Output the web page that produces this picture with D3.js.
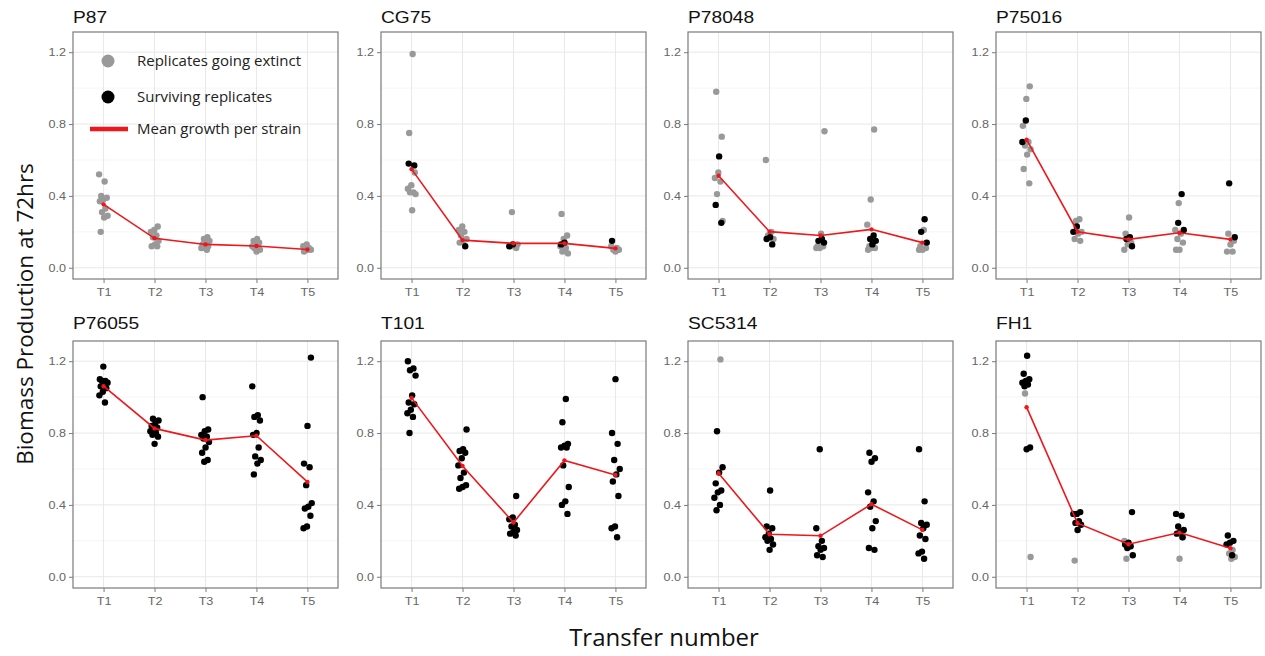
<!DOCTYPE html>
<meta charset="utf-8">
<style>
    body { margin: 0; background: #fff; }
    svg { display: block; }
</style>
<svg width="1265" height="656"></svg>
<script src="https://d3js.org/d3.v7.min.js"></script>
<script>
    var strains = ["P87", "CG75", "P78048", "P75016", "P76055", "T101", "SC5314", "FH1"];
    var transfers = ["T1", "T2", "T3", "T4", "T5"];
    var yTicks = [0, 0.4, 0.8, 1.2];
    var yMinorTicks = [0.2, 0.6, 1.0];

    // grey points: replicates going extinct, per strain, per transfer
    var extinct = [
        [[0.52, 0.48, 0.40, 0.39, 0.38, 0.37, 0.33, 0.31, 0.29, 0.28, 0.20], [0.23, 0.21, 0.20, 0.18, 0.17, 0.15, 0.13, 0.12, 0.12], [0.17, 0.16, 0.15, 0.14, 0.13, 0.12, 0.11, 0.11, 0.10], [0.16, 0.15, 0.14, 0.13, 0.12, 0.12, 0.11, 0.10, 0.09], [0.13, 0.12, 0.11, 0.11, 0.10, 0.10, 0.09]],
        [[1.19, 0.75, 0.53, 0.46, 0.44, 0.42, 0.42, 0.41, 0.32], [0.23, 0.21, 0.20, 0.18, 0.16, 0.15, 0.14], [0.31, 0.13, 0.12, 0.12, 0.11], [0.30, 0.18, 0.16, 0.12, 0.11, 0.09, 0.08], [0.12, 0.11, 0.10, 0.10, 0.09]],
        [[0.98, 0.73, 0.53, 0.50, 0.48, 0.41, 0.26], [0.60, 0.20, 0.18, 0.16], [0.76, 0.19, 0.12, 0.12, 0.11, 0.11], [0.77, 0.38, 0.24, 0.13, 0.12, 0.11, 0.11, 0.10], [0.21, 0.12, 0.11, 0.10, 0.10]],
        [[1.01, 0.94, 0.79, 0.70, 0.68, 0.66, 0.63, 0.55, 0.47], [0.27, 0.26, 0.20, 0.19, 0.16, 0.15], [0.28, 0.19, 0.14, 0.13, 0.10], [0.36, 0.21, 0.19, 0.16, 0.14, 0.10, 0.10], [0.19, 0.15, 0.13, 0.09, 0.09]],
        [[], [], [], [], []],
        [[], [], [], [], []],
        [[1.21], [], [], [], []],
        [[1.02, 0.11], [0.09], [0.20, 0.17, 0.10], [0.22, 0.10], [0.15, 0.13, 0.11, 0.10]]
    ];

    // black points: surviving replicates
    var surviving = [
        [[], [], [], [], []],
        [[0.58, 0.57], [0.12], [0.13, 0.12], [0.14, 0.13], [0.15]],
        [[0.62, 0.35, 0.25], [0.17, 0.16, 0.13], [0.16, 0.15, 0.14], [0.18, 0.16, 0.15, 0.13], [0.27, 0.20, 0.14]],
        [[0.82, 0.70], [0.23, 0.20], [0.17, 0.16, 0.12], [0.41, 0.25, 0.21], [0.47, 0.17]],
        [[1.17, 1.10, 1.09, 1.09, 1.08, 1.07, 1.06, 1.05, 1.03, 1.01, 0.97], [0.88, 0.87, 0.85, 0.84, 0.83, 0.82, 0.81, 0.80, 0.79, 0.78, 0.74], [1.00, 0.82, 0.81, 0.79, 0.78, 0.77, 0.75, 0.72, 0.69, 0.65, 0.64], [1.06, 0.90, 0.89, 0.87, 0.80, 0.79, 0.72, 0.67, 0.65, 0.63, 0.57], [1.22, 0.84, 0.63, 0.61, 0.51, 0.41, 0.39, 0.38, 0.34, 0.28, 0.27]],
        [[1.20, 1.16, 1.15, 1.12, 1.01, 0.97, 0.96, 0.93, 0.91, 0.89, 0.80], [0.82, 0.71, 0.70, 0.69, 0.66, 0.62, 0.58, 0.55, 0.51, 0.50, 0.49], [0.45, 0.33, 0.32, 0.29, 0.28, 0.26, 0.25, 0.24, 0.23], [0.99, 0.86, 0.74, 0.73, 0.72, 0.72, 0.62, 0.50, 0.42, 0.40, 0.35], [1.10, 0.80, 0.74, 0.65, 0.60, 0.57, 0.53, 0.45, 0.28, 0.27, 0.22]],
        [[0.81, 0.61, 0.58, 0.52, 0.48, 0.47, 0.44, 0.40, 0.37], [0.48, 0.28, 0.27, 0.24, 0.22, 0.21, 0.20, 0.18, 0.15], [0.71, 0.27, 0.20, 0.17, 0.16, 0.15, 0.12, 0.11], [0.69, 0.66, 0.64, 0.47, 0.42, 0.39, 0.31, 0.27, 0.16, 0.15], [0.71, 0.42, 0.30, 0.29, 0.27, 0.23, 0.21, 0.14, 0.13, 0.10]],
        [[1.23, 1.13, 1.10, 1.09, 1.08, 1.07, 1.06, 0.72, 0.71], [0.36, 0.35, 0.35, 0.31, 0.30, 0.29, 0.26], [0.36, 0.19, 0.18, 0.17, 0.16, 0.12], [0.35, 0.34, 0.28, 0.26, 0.25, 0.24, 0.22], [0.23, 0.20, 0.19, 0.18, 0.12]]
    ];

    // red line: mean growth per strain
    var meanGrowth = [
        [0.353, 0.164, 0.130, 0.121, 0.102],
        [0.549, 0.154, 0.136, 0.136, 0.108],
        [0.512, 0.201, 0.180, 0.214, 0.140],
        [0.713, 0.201, 0.158, 0.195, 0.158],
        [1.061, 0.826, 0.761, 0.785, 0.528],
        [0.996, 0.617, 0.302, 0.648, 0.567],
        [0.576, 0.237, 0.228, 0.404, 0.261],
        [0.944, 0.298, 0.181, 0.246, 0.159]
    ];

    var legendItems = ["Replicates going extinct", "Surviving replicates", "Mean growth per strain"];

    var svg = d3.select("svg"),
        PANEL_W = 265,
        PANEL_H = 247,
        COL_LEFT = [73, 381, 688, 996],
        ROW_TOP = [32, 341],
        GREY = "#999999",
        RED = "#f0161a",
        STRETCH = 1.2,
        sansFont = "'Liberation Sans', Arial, sans-serif",
        titleFont = "'Open Sans', 'Noto Sans', sans-serif";

    var x = d3.scalePoint().domain(transfers).range([0, PANEL_W]).padding(0.6),
        y = d3.scaleLinear().domain([-0.0625, 1.3125]).range([PANEL_H, 0]);

    // deterministic horizontal spread for overlapping replicates
    function spread(i) {
        return ((i * 0.618034) % 1 * 2 - 1) * 4.5;
    }

    function stretchText(sel, tx, ty) {
        sel.attr("transform", "translate(" + tx + "," + ty + ") scale(" + STRETCH + ",1)");
    }

    strains.forEach(function (name, s) {
        var col = s % 4, row = Math.floor(s / 4),
            g = svg.append("g").attr("transform", "translate(" + COL_LEFT[col] + "," + ROW_TOP[row] + ")");

        // grid
        g.append("g").selectAll("line").data(yMinorTicks).enter().append("line")
            .attr("x1", 0).attr("x2", PANEL_W)
            .attr("y1", function (d) { return y(d); }).attr("y2", function (d) { return y(d); })
            .attr("stroke", "#f2f2f2").attr("stroke-width", 0.8);
        g.append("g").selectAll("line").data(yTicks).enter().append("line")
            .attr("x1", 0).attr("x2", PANEL_W)
            .attr("y1", function (d) { return y(d); }).attr("y2", function (d) { return y(d); })
            .attr("stroke", "#e8e8e8").attr("stroke-width", 1);
        g.append("g").selectAll("line").data(transfers).enter().append("line")
            .attr("y1", 0).attr("y2", PANEL_H)
            .attr("x1", function (d) { return x(d); }).attr("x2", function (d) { return x(d); })
            .attr("stroke", "#e8e8e8").attr("stroke-width", 1);

        // points
        var pts = [];
        transfers.forEach(function (t, k) {
            var n = 0;
            extinct[s][k].forEach(function (v) { pts.push({t: t, v: v, c: GREY, j: spread(n++ + k * 3 + s)}); });
            surviving[s][k].forEach(function (v) { pts.push({t: t, v: v, c: "#000", j: spread(n++ + k * 3 + s)}); });
        });
        g.append("g").selectAll("circle").data(pts).enter().append("circle")
            .attr("cx", function (d) { return x(d.t) + d.j; })
            .attr("cy", function (d) { return y(d.v); })
            .attr("r", 3.2)
            .attr("fill", function (d) { return d.c; });

        // mean line
        var means = transfers.map(function (t, k) { return {t: t, v: meanGrowth[s][k]}; });
        g.append("path").datum(means)
            .attr("fill", "none").attr("stroke", RED).attr("stroke-width", 1.6)
            .attr("d", d3.line().x(function (d) { return x(d.t); }).y(function (d) { return y(d.v); }));
        g.append("g").selectAll("circle").data(means).enter().append("circle")
            .attr("cx", function (d) { return x(d.t); })
            .attr("cy", function (d) { return y(d.v); })
            .attr("r", 2.2).attr("fill", RED);

        // border
        g.append("rect").attr("width", PANEL_W).attr("height", PANEL_H)
            .attr("fill", "none").attr("stroke", "#7a7a7a").attr("stroke-width", 1.2);

        // axes
        var yAxis = g.append("g").call(d3.axisLeft(y).tickValues(yTicks).tickFormat(d3.format(".1f")).tickSize(4).tickPadding(3));
        var xAxis = g.append("g").attr("transform", "translate(0," + PANEL_H + ")")
            .call(d3.axisBottom(x).tickSize(4).tickPadding(3));
        [yAxis, xAxis].forEach(function (a) {
            a.select(".domain").remove();
            a.selectAll(".tick line").attr("stroke", "#7a7a7a");
            a.selectAll(".tick text").attr("fill", "#666").style("font-family", sansFont).style("font-size", "10.5px");
        });
        yAxis.selectAll(".tick text").attr("transform", "scale(" + STRETCH + ",1)")
            .attr("x", -7 / STRETCH);
        xAxis.selectAll(".tick text").attr("transform", "scale(" + STRETCH + ",1)").attr("dy", "0.95em");

        // strip title
        g.append("text").text(name)
            .style("font-family", sansFont).style("font-size", "16px").attr("fill", "#111")
            .call(stretchText, 0, row === 0 ? -9 : -12);

        // legend inside first panel
        if (s === 0) {
            var lg = g.append("g");
            lg.append("circle").attr("cx", 35).attr("cy", 29).attr("r", 6.5).attr("fill", GREY);
            lg.append("circle").attr("cx", 35).attr("cy", 65).attr("r", 6.5).attr("fill", "#000");
            lg.append("line").attr("x1", 17).attr("x2", 55).attr("y1", 97).attr("y2", 97)
                .attr("stroke", RED).attr("stroke-width", 4.5);
            lg.selectAll("text").data(legendItems).enter().append("text")
                .attr("x", 64)
                .attr("y", function (d, i) { return [29, 65, 97][i]; })
                .attr("dy", "0.35em")
                .style("font-family", titleFont).style("font-size", "15px").attr("fill", "#222")
                .text(function (d) { return d; });
        }
    });

    svg.append("text").text("Transfer number")
        .attr("x", 664).attr("y", 646).attr("text-anchor", "middle")
        .style("font-family", titleFont).style("font-size", "24px").attr("fill", "#111");

    svg.append("text").text("Biomass Production at 72hrs")
        .attr("transform", "translate(33,314) rotate(-90)").attr("text-anchor", "middle")
        .style("font-family", titleFont).style("font-size", "22.5px").attr("fill", "#111");
</script>
